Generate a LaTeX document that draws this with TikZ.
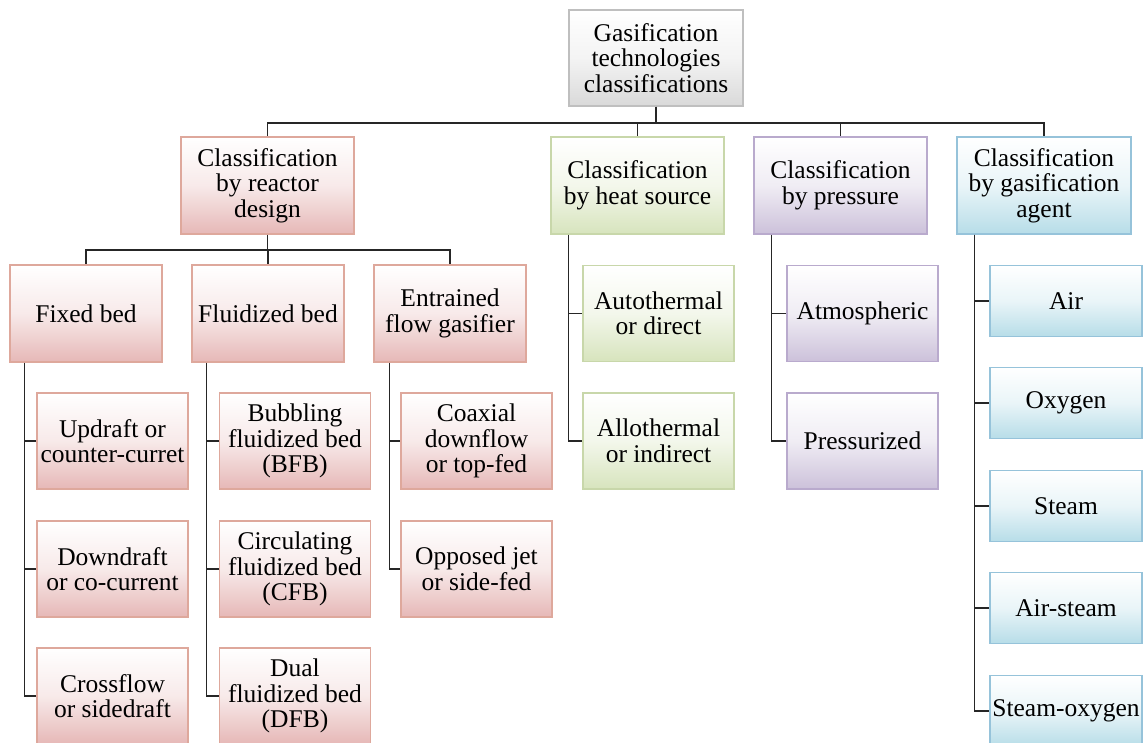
\documentclass[tikz,border=0pt]{standalone}
\usepackage{fontspec}
\setmainfont{Liberation Serif}
\definecolor{redB}{RGB}{222,168,156}
\definecolor{redF}{RGB}{230,184,183}
\definecolor{grnB}{RGB}{200,215,170}
\definecolor{grnF}{RGB}{215,228,189}
\definecolor{purB}{RGB}{185,170,205}
\definecolor{purF}{RGB}{204,193,218}
\definecolor{bluB}{RGB}{150,195,218}
\definecolor{bluF}{RGB}{183,221,232}
\definecolor{gryB}{RGB}{191,191,191}
\definecolor{gryF}{RGB}{217,217,217}
\begin{document}
\begin{tikzpicture}[x=1pt,y=-1pt,
  box/.style={rectangle, line width=1.5pt, align=center, inner sep=0pt,
    font=\fontsize{25.5}{25.5}\selectfont},
  rbox/.style={box, draw=redB, top color=white, bottom color=redF, middle color=redF!30!white},
  gbox/.style={box, draw=grnB, top color=white, bottom color=grnF, middle color=grnF!30!white},
  pbox/.style={box, draw=purB, top color=white, bottom color=purF, middle color=purF!30!white},
  bbox/.style={box, draw=bluB, top color=white, bottom color=bluF, middle color=bluF!30!white},
  kbox/.style={box, draw=gryB, top color=white, bottom color=gryF, middle color=gryF!30!white},
  big/.style={minimum width=173pt, minimum height=97pt},
  mid/.style={minimum width=152pt, minimum height=97pt},
  sml/.style={minimum width=151pt, minimum height=96pt},
  agt/.style={minimum width=152pt, minimum height=71pt},
  conn/.style={draw=black!85, line width=1.5pt}]
\clip (0,0) rectangle (1145,742);
\fill[white] (0,0) rectangle (1145,742);

% root
\node[kbox, minimum width=174pt, minimum height=96pt] (root) at (656,58) {Gasification\\technologies\\classifications};

% level 1
\node[rbox, big] (reactor) at (267.5,185.5) {Classification\\by reactor\\design};
\node[gbox, big] (heat) at (637.5,185.5) {Classification\\by heat source};
\node[pbox, big] (press) at (840.5,185.5) {Classification\\by pressure};
\node[bbox, big, minimum width=174pt] (agent) at (1044,185.5) {Classification\\by gasification\\agent};

% level 2 reactor
\node[rbox, mid] (fixed) at (86,313.5) {Fixed bed};
\node[rbox, mid] (fluid) at (268,313.5) {Fluidized bed};
\node[rbox, mid] (entr) at (450,313.5) {Entrained\\flow gasifier};

% fixed bed children
\node[rbox, sml] (updraft) at (112.5,441) {Updraft or\\counter-curret};
\node[rbox, sml] (downdraft) at (112.5,569) {Downdraft\\or co-current};
\node[rbox, sml] (crossflow) at (112.5,696) {Crossflow\\or sidedraft};

% fluidized bed children
\node[rbox, sml] (bfb) at (295,441) {Bubbling\\fluidized bed\\(BFB)};
\node[rbox, sml] (cfb) at (295,569) {Circulating\\fluidized bed\\(CFB)};
\node[rbox, sml] (dfb) at (295,696) {Dual\\fluidized bed\\(DFB)};

% entrained flow children
\node[rbox, sml] (coaxial) at (476.5,441) {Coaxial\\downflow\\or top-fed};
\node[rbox, sml] (opposed) at (476.5,569) {Opposed jet\\or side-fed};

% heat source children
\node[gbox, sml] (auto) at (658.5,313.5) {Autothermal\\or direct};
\node[gbox, sml] (allo) at (658.5,441) {Allothermal\\or indirect};

% pressure children
\node[pbox, sml] (atmo) at (862.5,313.5) {Atmospheric};
\node[pbox, sml] (presz) at (862.5,441) {Pressurized};

% agent children
\node[bbox, agt] (air) at (1066,301) {Air};
\node[bbox, agt] (oxy) at (1066,403) {Oxygen};
\node[bbox, agt] (steam) at (1066,506) {Steam};
\node[bbox, agt] (airsteam) at (1066,608) {Air-steam};
\node[bbox, agt] (steamoxy) at (1066,711) {Steam-oxygen};

% connectors root -> level 1
\foreach \n in {reactor,heat,press,agent}
  \draw[conn] (root.south) -- ++(0,16) -| (\n.north);

% reactor -> level 2
\foreach \n in {fixed,fluid,entr}
  \draw[conn] (reactor.south) -- ++(0,15) -| (\n.north);

% side connectors
\foreach \n in {updraft,downdraft,crossflow}
  \draw[conn] ([xshift=15pt]fixed.south west) |- (\n.west);
\foreach \n in {bfb,cfb,dfb}
  \draw[conn] ([xshift=15pt]fluid.south west) |- (\n.west);
\foreach \n in {coaxial,opposed}
  \draw[conn] ([xshift=16pt]entr.south west) |- (\n.west);
\foreach \n in {auto,allo}
  \draw[conn] ([xshift=18pt]heat.south west) |- (\n.west);
\foreach \n in {atmo,presz}
  \draw[conn] ([xshift=18pt]press.south west) |- (\n.west);
\foreach \n in {air,oxy,steam,airsteam,steamoxy}
  \draw[conn] ([xshift=18pt]agent.south west) |- (\n.west);
\end{tikzpicture}
\end{document}
